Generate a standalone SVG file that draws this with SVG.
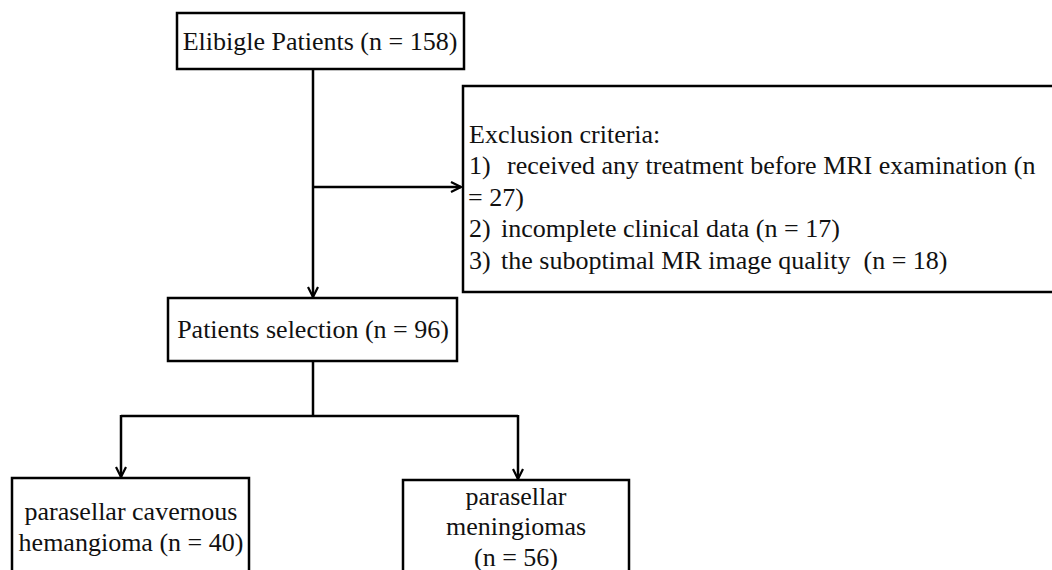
<svg xmlns="http://www.w3.org/2000/svg" width="1052" height="570" viewBox="0 0 1052 570">
<style>
.box{fill:#fff;stroke:#000;stroke-width:2.5}
.t{font-family:"Liberation Serif","Times New Roman",serif;font-size:26px;fill:#111}
.c{text-anchor:middle}
.ln{fill:none;stroke:#000;stroke-width:2.5}
</style>
<defs>
<marker id="ah" viewBox="0 0 12 12" refX="11" refY="6" markerWidth="12" markerHeight="12" markerUnits="userSpaceOnUse" orient="auto">
<path d="M1,1 L11,6 L1,11" fill="none" stroke="#000" stroke-width="2.2"/>
</marker>
</defs>
<rect width="1052" height="570" fill="#fff"/>
<g id="connectors">
<line class="ln" x1="313" y1="69" x2="313" y2="297" marker-end="url(#ah)"/>
<line class="ln" x1="313" y1="187" x2="461" y2="187" marker-end="url(#ah)"/>
<polyline class="ln" points="313,361 313,416"/>
<polyline class="ln" points="121,416 518,416"/>
<line class="ln" x1="121" y1="415" x2="121" y2="477" marker-end="url(#ah)"/>
<line class="ln" x1="518" y1="415" x2="518" y2="479" marker-end="url(#ah)"/>
</g>
<g id="n1">
<rect class="box" x="177" y="13" width="287" height="56"/>
<text class="t c" x="320" y="50">Elibigle Patients (n = 158)</text>
</g>
<g id="n2">
<rect class="box" x="463" y="86" width="600" height="206"/>
<text class="t" x="469" y="143">Exclusion criteria:</text>
<text class="t" x="469" y="174">1)</text>
<text class="t" x="507" y="174">received any treatment before MRI examination (n</text>
<text class="t" x="468" y="206">= 27)</text>
<text class="t" x="469" y="237">2)</text>
<text class="t" x="501" y="237">incomplete clinical data (n = 17)</text>
<text class="t" x="469" y="269">3)</text>
<text class="t" x="501" y="269" xml:space="preserve">the suboptimal MR image quality  (n = 18)</text>
</g>
<g id="n3">
<rect class="box" x="168" y="298" width="289" height="63"/>
<text class="t c" x="313" y="338">Patients selection (n = 96)</text>
</g>
<g id="n4">
<rect class="box" x="12" y="478" width="237" height="110"/>
<text class="t c" x="131" y="520">parasellar cavernous</text>
<text class="t c" x="131" y="551">hemangioma (n = 40)</text>
</g>
<g id="n5">
<rect class="box" x="403" y="480" width="226" height="110"/>
<text class="t c" x="516" y="505">parasellar</text>
<text class="t c" x="516" y="535">meningiomas</text>
<text class="t c" x="516" y="566">(n = 56)</text>
</g>
</svg>
